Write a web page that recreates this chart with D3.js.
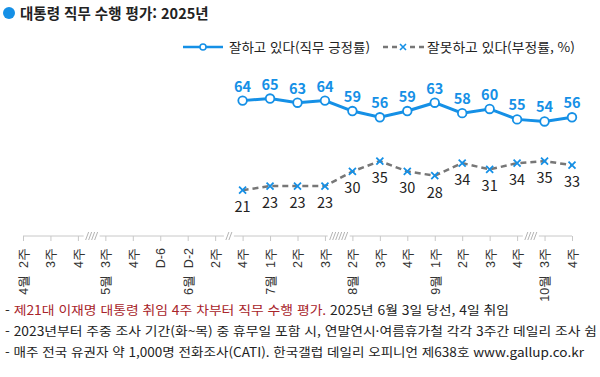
<!DOCTYPE html>
<html lang="ko">
<head>
<meta charset="utf-8" />
<title>대통령 직무 수행 평가</title>
<script src="https://d3js.org/d3.v7.min.js"></script>
<style>
    body { margin: 0; background: #fff; }
    svg { font-family: "Noto Sans CJK KR", "Noto Sans", sans-serif; }
</style>
</head>
<body>
<svg width="600" height="377"></svg>
<script>
    // x categories (month prefix only where the month changes)
    var weekLabels = ["4월 2주", "3주", "4주", "5월 3주", "4주", "D-6", "6월 D-2", "2주", "4주", "7월 1주", "2주",
                      "3주", "8월 2주", "3주", "4주", "9월 1주", "2주", "3주", "4주", "10월 3주", "4주"];
    // slashes marking skipped weeks: drawn between index i and i+1
    var breaks = [{ after: 2, n: 4 }, { after: 7, n: 2 }, { after: 11, n: 6 }, { after: 18, n: 4 }];

    // survey values start at the 9th category (6월 4주)
    var firstIndex = 8;
    var approve = [64, 65, 63, 64, 59, 56, 59, 63, 58, 60, 55, 54, 56];
    var disapprove = [21, 23, 23, 23, 30, 35, 30, 28, 34, 31, 34, 35, 33];

    var blue = "#1590e6";
    var svg = d3.select("svg");

    var x = d3.scalePoint().domain(d3.range(weekLabels.length)).range([23, 572]);
    var y = d3.scaleLinear().domain([0, 100]).range([234, 25.6]);
    var axisY = 236;

    // title
    svg.append("circle").attr("cx", 9).attr("cy", 13).attr("r", 6).attr("fill", blue);
    svg.append("text").attr("x", 20).attr("y", 18.5)
        .attr("font-size", 14.5).attr("font-weight", "bold").attr("fill", "#222")
        .text("대통령 직무 수행 평가: 2025년");

    // legend
    var lg = svg.append("g").attr("transform", "translate(0,47)");
    lg.append("line").attr("x1", 183).attr("x2", 223).attr("stroke", blue).attr("stroke-width", 2.5);
    lg.append("circle").attr("cx", 203).attr("r", 3).attr("fill", "#fff").attr("stroke", blue).attr("stroke-width", 1.5);
    lg.append("text").attr("x", 229).attr("y", 5).attr("font-size", 13).attr("fill", "#222")
        .attr("textLength", 141).attr("lengthAdjust", "spacingAndGlyphs")
        .text("잘하고 있다(직무 긍정률)");
    lg.append("line").attr("x1", 383).attr("x2", 424).attr("stroke", "#777").attr("stroke-width", 2.5)
        .attr("stroke-dasharray", "5,4");
    lg.append("rect").attr("x", 398).attr("y", -5).attr("width", 10).attr("height", 10).attr("fill", "#fff");
    lg.append("path").attr("d", "M400,-3L406,3M406,-3L400,3").attr("stroke", blue).attr("stroke-width", 1.6);
    lg.append("text").attr("x", 427).attr("y", 5).attr("font-size", 13).attr("fill", "#222")
        .attr("textLength", 148).attr("lengthAdjust", "spacingAndGlyphs")
        .text("잘못하고 있다(부정률, %)");

    // x axis
    var xAxis = d3.axisBottom(x).tickSize(5).tickSizeOuter(0).tickFormat(function (i) { return weekLabels[i]; });
    var gx = svg.append("g").attr("transform", "translate(0," + axisY + ")").call(xAxis);
    gx.select(".domain").attr("stroke", "#c8c8c8").attr("d", "M" + x(0) + ",0H" + x(weekLabels.length - 1));
    gx.selectAll(".tick line").attr("stroke", "#c8c8c8");
    gx.selectAll(".tick text")
        .attr("fill", "#333").attr("font-size", 12.5)
        .attr("transform", "rotate(-90)")
        .attr("text-anchor", "end")
        .attr("x", -12).attr("y", 0).attr("dy", "0.35em")
        .attr("xml:space", "preserve")
        .text(function (i) { return weekLabels[i].replace(" ", "  "); });

    breaks.forEach(function (b) {
        var cx = (x(b.after) + x(b.after + 1)) / 2;
        var w = b.n * 3 + 4;
        gx.append("rect").attr("x", cx - w / 2).attr("y", -2).attr("width", w).attr("height", 4).attr("fill", "#fff");
        for (var k = 0; k < b.n; k++) {
            var sx = cx - (b.n - 1) * 1.5 + k * 3;
            gx.append("line").attr("x1", sx - 1.5).attr("y1", 4).attr("x2", sx + 1.5).attr("y2", -4)
                .attr("stroke", "#aaa").attr("stroke-width", 0.9);
        }
    });

    // series
    var line = d3.line()
        .x(function (d, i) { return x(firstIndex + i); })
        .y(function (d) { return y(d); });

    svg.append("path").datum(disapprove).attr("d", line)
        .attr("fill", "none").attr("stroke", "#777").attr("stroke-width", 2.5).attr("stroke-dasharray", "6,4");
    svg.append("path").datum(approve).attr("d", line)
        .attr("fill", "none").attr("stroke", blue).attr("stroke-width", 3);

    svg.selectAll(".pos").data(approve).enter().append("circle").attr("class", "pos")
        .attr("cx", function (d, i) { return x(firstIndex + i); })
        .attr("cy", function (d) { return y(d); })
        .attr("r", 4.3).attr("fill", "#fff").attr("stroke", blue).attr("stroke-width", 1.8);

    svg.selectAll(".neg").data(disapprove).enter().append("path").attr("class", "neg")
        .attr("transform", function (d, i) { return "translate(" + x(firstIndex + i) + "," + y(d) + ")"; })
        .attr("d", "M-3.5,-3.5L3.5,3.5M3.5,-3.5L-3.5,3.5")
        .attr("stroke", blue).attr("stroke-width", 1.8);

    svg.selectAll(".posLabel").data(approve).enter().append("text").attr("class", "posLabel")
        .attr("x", function (d, i) { return x(firstIndex + i); })
        .attr("y", function (d) { return y(d) - 9; })
        .attr("text-anchor", "middle").attr("font-size", 14.5).attr("font-weight", "bold").attr("fill", blue)
        .text(function (d) { return d; });

    svg.selectAll(".negLabel").data(disapprove).enter().append("text").attr("class", "negLabel")
        .attr("x", function (d, i) { return x(firstIndex + i); })
        .attr("y", function (d) { return y(d) + 22; })
        .attr("text-anchor", "middle").attr("font-size", 14.5).attr("fill", "#222")
        .text(function (d) { return d; });

    // footnotes
    var f1 = svg.append("text").attr("x", 5).attr("y", 315).attr("font-size", 12.5).attr("fill", "#222")
        .attr("textLength", 504).attr("lengthAdjust", "spacingAndGlyphs");
    f1.append("tspan").text("- ");
    f1.append("tspan").attr("fill", "#a8242a").text("제21대 이재명 대통령 취임 4주 차부터 직무 수행 평가. ");
    f1.append("tspan").text("2025년 6월 3일 당선, 4일 취임");
    svg.append("text").attr("x", 5).attr("y", 336).attr("font-size", 12.5).attr("fill", "#222")
        .attr("textLength", 592).attr("lengthAdjust", "spacingAndGlyphs")
        .text("- 2023년부터 주중 조사 기간(화~목) 중 휴무일 포함 시, 연말연시·여름휴가철 각각 3주간 데일리 조사 쉼");
    svg.append("text").attr("x", 5).attr("y", 357).attr("font-size", 12.5).attr("fill", "#222")
        .attr("textLength", 579).attr("lengthAdjust", "spacingAndGlyphs")
        .text("- 매주 전국 유권자 약 1,000명 전화조사(CATI). 한국갤럽 데일리 오피니언 제638호 www.gallup.co.kr");
</script>
</body>
</html>
